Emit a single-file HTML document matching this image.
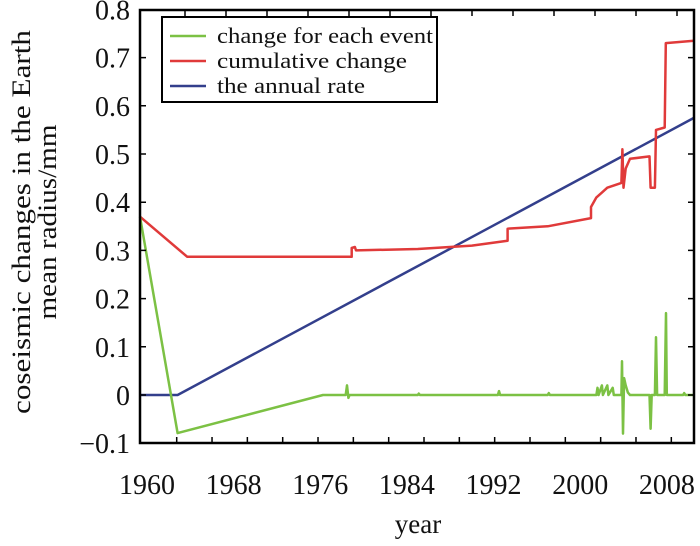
<!DOCTYPE html>
<html><head><meta charset="utf-8"><style>
body{margin:0;background:#fff;}
svg text{font-family:"Liberation Serif",serif;fill:#111;}
</style></head><body>
<svg id="chart" width="700" height="541" viewBox="0 0 700 541" xmlns="http://www.w3.org/2000/svg">
<g id="marks"></g>
<rect x="140" y="10" width="554" height="433" fill="none" stroke="#000" stroke-width="2.5"/>
<g id="axes"></g>
<g>
<rect x="162" y="17" width="275" height="85" fill="#fff" stroke="#000" stroke-width="2"/>
<line x1="170" y1="36" x2="206" y2="36" stroke="#7cc144" stroke-width="2.5"/>
<text x="217" y="43" font-size="22" textLength="216" lengthAdjust="spacingAndGlyphs">change for each event</text>
<line x1="170" y1="61" x2="206" y2="61" stroke="#e03a3a" stroke-width="2.5"/>
<text x="217" y="68" font-size="22" textLength="190" lengthAdjust="spacingAndGlyphs">cumulative change</text>
<line x1="170" y1="86" x2="206" y2="86" stroke="#333f8c" stroke-width="2.5"/>
<text x="217" y="93" font-size="22" textLength="148" lengthAdjust="spacingAndGlyphs">the annual rate</text>
</g>
<text x="418" y="533" font-size="27" text-anchor="middle">year</text>
<text transform="translate(30,222) rotate(-90)" font-size="26" text-anchor="middle" textLength="384" lengthAdjust="spacingAndGlyphs">coseismic changes in the Earth</text>
<text transform="translate(56,222) rotate(-90)" font-size="26" text-anchor="middle" textLength="195" lengthAdjust="spacingAndGlyphs">mean radius/mm</text>
</svg>
<script>
const xTickLabels=[1960,1968,1976,1984,1992,2000,2008];
const yTickValues=[-0.1,0,0.1,0.2,0.3,0.4,0.5,0.6,0.7,0.8];
const yTickLabels=["\u22120.1","0","0.1","0.2","0.3","0.4","0.5","0.6","0.7","0.8"];
const eventYears=[1959.35,1962.83,1976.25,1978.35,1978.47,1978.6,1978.7,1985,1985.1,1985.2,1992.4,1992.5,1992.6,1997,1997.1,1997.2,2001.5,2001.6,2001.7,2002.0,2002.1,2002.5,2002.6,2003.0,2003.1,2003.8,2003.86,2003.95,2004.05,2004.2,2004.4,2004.6,2006.4,2006.5,2006.6,2006.9,2007.0,2007.1,2007.8,2007.92,2008.0,2009.5,2009.6,2009.7,2010.5];
const eventValues=[0.37,-0.079,0,0,0.02,-0.006,0,0,0.003,0,0,0.008,0,0,0.004,0,0,0.015,0,0.02,0,0.02,0,0.015,0,0,0.07,-0.08,0.035,0.02,0.005,0,0,-0.07,0,0,0.12,0,0,0.17,0,0,0.004,0,0];
const cumYears=[1959.35,1963.7,1978.9,1978.9,1979.2,1979.3,1985,1990,1993.3,1993.3,1997,2001,2001,2001.5,2002,2002.5,2003.8,2003.9,2004.0,2004.2,2004.6,2006.4,2006.5,2006.9,2007.0,2007.8,2007.9,2010.5];
const cumValues=[0.37,0.287,0.287,0.305,0.307,0.3,0.303,0.31,0.32,0.345,0.35,0.367,0.39,0.41,0.42,0.43,0.44,0.51,0.43,0.47,0.49,0.495,0.43,0.43,0.55,0.555,0.73,0.735];
const rateYears=[1959.35,1962.83,2010.5];
const rateValues=[0,0,0.575];
const NS="http://www.w3.org/2000/svg";
function xs(yr){return 147+(yr-1960)*10.83;}
function ys(v){return 395-v*482;}
const marks=document.getElementById('marks');
const axes=document.getElementById('axes');
function mk(tag,attrs,parent){const e=document.createElementNS(NS,tag);for(const k in attrs)e.setAttribute(k,attrs[k]);parent.appendChild(e);return e;}
function line(xsArr,vals,color,name){
  const d=xsArr.map((x,i)=>(i?'L':'M')+xs(x).toFixed(1)+','+ys(vals[i]).toFixed(1)).join(' ');
  const p=mk('path',{d:d,fill:'none',stroke:color,'stroke-width':2.5,'stroke-linejoin':'round'},marks);
  
  
}
line(rateYears,rateValues,'#333f8c','annual-rate-line');
line(cumYears,cumValues,'#e03a3a','cumulative-change-line');
line(eventYears,eventValues,'#7cc144','event-change-line');
yTickValues.forEach((v,i)=>{
  const y=ys(v);
  const t=mk('text',{x:130,y:y+10,'font-size':28,'text-anchor':'end'},axes);
  t.textContent=yTickLabels[i];
  
  
  if(v>-0.1&&v<0.8){
    const l=mk('path',{d:`M140,${y}h6M694,${y}h-6`,stroke:'#000','stroke-width':1.5},axes);
    
    
  }
});
xTickLabels.forEach(yr=>{
  const t=mk('text',{x:xs(yr),y:494,'font-size':28,'text-anchor':'middle'},axes);
  t.textContent=yr;
  
  
});
for(let x=176.7;x<690;x+=35.33){
  const l=mk('path',{d:`M${x},443v-6`,stroke:'#000','stroke-width':1.5},axes);
  
  
}
for(let x=185;x<690;x+=41){
  const l=mk('path',{d:`M${x},10v6`,stroke:'#000','stroke-width':1.5},axes);
  
  
}
</script>
</body></html>
